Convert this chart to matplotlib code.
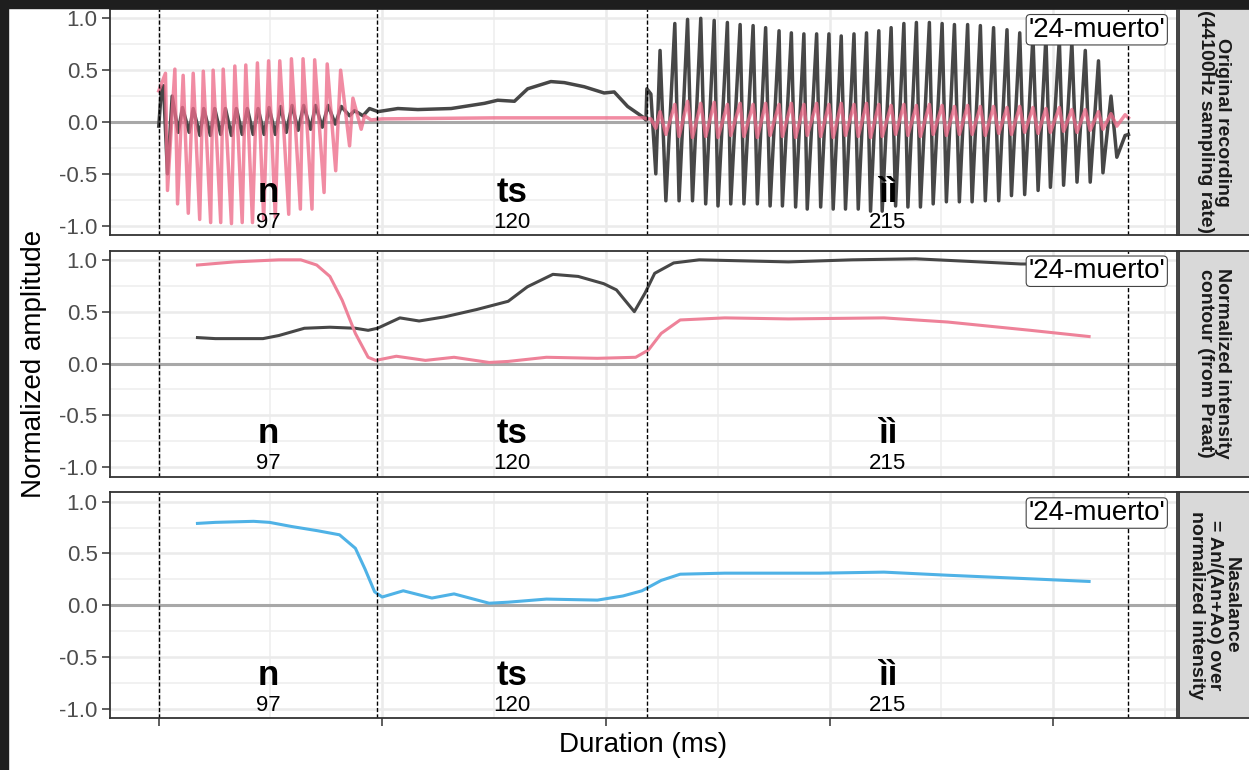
import matplotlib
matplotlib.use("Agg")
import matplotlib.pyplot as plt
from matplotlib.patches import Rectangle

plt.rcParams["font.family"] = ["Liberation Sans", "DejaVu Sans"]

# --- segment info ---
seg_labels = ["n", "ts", "ìì"]
seg_durations = ["97", "120", "215"]
seg_bounds = [0, 97.7, 218.3, 433.6]   # ms

strip_labels = [
    "Original recording\n(44100Hz sampling rate)",
    "Normalized intensity\ncontour (from Praat)",
    "Nasalance\n= An/(An+Ao) over\nnormalized intensity",
]
word_label = "'24-muerto'"

# --- panel 1: waveforms (oral = grey, nasal = pink) ---
oral_wave_t = [0.1, 1.3, 2.2, 4.0, 6.1, 8.8, 10.7, 13.7, 15.5, 18.5, 20.2, 23.2, 25.1,
               27.8, 29.9, 32.6, 34.8, 37.4, 39.7, 42.3, 44.5, 47.2, 49.4, 52.2, 54.6,
               57.1, 59.7, 62.4, 64.9, 68.0, 70.2, 73.2, 75.8, 79.0, 81.7, 85.4, 87.6,
               91.4, 94.3,
               98.1, 107.0, 115.9, 130.8, 145.7, 151.6, 159.1, 165.0, 175.4, 181.4,
               190.3, 199.2, 203.7, 209.7, 216.4, 217.9,
               218.3, 220.1, 222.3, 224.2, 226.8, 230.8, 232.7, 236.5, 238.7, 242.4,
               244.6, 248.4, 250.1, 254.3, 255.8, 260.0, 261.7, 265.8, 267.7, 271.4,
               273.4, 277.4, 278.9, 282.9, 284.8, 288.5, 290.0, 294.2, 296.0, 299.7,
               301.6, 305.2, 307.1, 310.9, 312.8, 316.5, 318.3, 322.0, 323.5, 327.5,
               329.5, 333.2, 335.0, 338.8, 340.6, 344.6, 346.3, 350.3, 352.2, 355.8,
               358.0, 361.7, 363.7, 367.4, 369.6, 373.3, 375.6, 379.3, 381.3, 385.0,
               387.2, 390.9, 393.2, 396.7, 398.7, 402.7, 404.6, 408.3, 410.6, 414.3,
               416.5, 420.2, 422.2, 425.8, 428.4, 432.1, 433.6]
oral_wave_v = [-0.04, 0.32, 0.35, -0.50, 0.25, -0.10, 0.14, -0.10, 0.13, -0.13, 0.13, -0.13,
               0.13, -0.12, 0.13, -0.13, 0.13, -0.12, 0.13, -0.12, 0.13, -0.12, 0.14, -0.12,
               0.15, -0.10, 0.16, -0.08, 0.16, -0.07, 0.16, -0.05, 0.16, -0.02, 0.15, 0.06,
               0.11, 0.06, 0.13,
               0.10, 0.13, 0.12, 0.13, 0.18, 0.21, 0.20, 0.32, 0.39, 0.38,
               0.34, 0.28, 0.29, 0.15, 0.05, 0.02,
               0.32, 0.27, -0.50, 0.69, -0.76, 0.95, -0.76, 0.99, -0.76, 1.00,
               -0.79, 0.98, -0.81, 0.96, -0.79, 0.94, -0.79, 0.93, -0.79, 0.91,
               -0.81, 0.88, -0.81, 0.86, -0.82, 0.85, -0.84, 0.85, -0.82, 0.85,
               -0.84, 0.83, -0.84, 0.85, -0.84, 0.86, -0.86, 0.88, -0.86, 0.91,
               -0.81, 0.95, -0.82, 0.96, -0.82, 0.96, -0.79, 0.95, -0.77, 0.94,
               -0.77, 0.94, -0.77, 0.93, -0.76, 0.91, -0.76, 0.89, -0.71, 0.86,
               -0.70, 0.83, -0.66, 0.82, -0.63, 0.80, -0.61, 0.77, -0.58, 0.69,
               -0.58, 0.59, -0.49, 0.25, -0.34, -0.13, -0.12]

nasal_wave_t = [0.1, 3.1, 4.0, 7.3, 8.5, 11.0, 13.3, 15.5, 18.4, 20.0, 23.3, 24.4, 27.8,
                28.9, 32.6, 34.1, 37.4, 39.0, 42.0, 44.2, 47.0, 49.2, 52.2, 54.2, 58.2,
                59.4, 63.4, 64.6, 68.6, 69.8, 74.0, 75.4, 79.2, 81.4, 85.4, 86.9, 90.6,
                92.1, 95.0,
                100.0, 150.0, 217.0,
                218.3, 220.1, 222.3, 224.2, 226.8, 230.8, 232.7, 236.5, 238.7, 242.4,
                244.6, 248.4, 250.1, 254.3, 255.8, 260.0, 261.7, 265.8, 267.7, 271.4,
                273.4, 277.4, 278.9, 282.9, 284.8, 288.5, 290.0, 294.2, 296.0, 299.7,
                301.6, 305.2, 307.1, 310.9, 312.8, 316.5, 318.3, 322.0, 323.5, 327.5,
                329.5, 333.2, 335.0, 338.8, 340.6, 344.6, 346.3, 350.3, 352.2, 355.8,
                358.0, 361.7, 363.7, 367.4, 369.6, 373.3, 375.6, 379.3, 381.3, 385.0,
                387.2, 390.9, 393.2, 396.7, 398.7, 402.7, 404.6, 408.3, 410.6, 414.3,
                416.5, 420.2, 422.2, 425.8, 428.4, 432.1, 433.6]
nasal_wave_v = [0.30, 0.47, -0.66, 0.51, -0.79, 0.45, -0.88, 0.47, -0.94, 0.49, -0.97, 0.50,
                -0.97, 0.51, -0.98, 0.54, -0.97, 0.55, -0.97, 0.57, -0.94, 0.59, -0.92, 0.59,
                -0.89, 0.61, -0.84, 0.61, -0.84, 0.60, -0.68, 0.56, -0.47, 0.50, -0.23, 0.23,
                -0.07, 0.06, 0.02,
                0.03, 0.04, 0.04,
                0.03, 0.03, -0.06, 0.10, -0.12, 0.17, -0.14, 0.20, -0.15, 0.18,
                -0.14, 0.19, -0.15, 0.17, -0.13, 0.18, -0.14, 0.17, -0.15, 0.18,
                -0.13, 0.17, -0.14, 0.18, -0.15, 0.17, -0.13, 0.18, -0.14, 0.17,
                -0.15, 0.18, -0.13, 0.17, -0.14, 0.18, -0.15, 0.17, -0.14, 0.16,
                -0.12, 0.17, -0.13, 0.16, -0.14, 0.17, -0.12, 0.16, -0.13, 0.15,
                -0.12, 0.16, -0.12, 0.15, -0.13, 0.15, -0.11, 0.14, -0.12, 0.15,
                -0.10, 0.14, -0.11, 0.13, -0.10, 0.14, -0.09, 0.12, -0.10, 0.12,
                -0.08, 0.10, -0.07, 0.08, -0.04, 0.07, 0.04]

# --- panel 2: intensity contours ---
oral_int_t = [17.4, 25.4, 33.9, 46.7, 53.8, 65.2, 76.6, 88.0, 93.7, 97.9, 107.9, 116.5,
              127.9, 142.1, 156.3, 164.9, 176.3, 187.6, 199.0, 204.7, 212.7, 217.5, 221.8,
              230.3, 241.7, 281.6, 310.0, 338.5, 367.0, 385.5, 400.0, 416.0]
oral_int_v = [0.25, 0.24, 0.24, 0.24, 0.27, 0.34, 0.35, 0.34, 0.32, 0.34, 0.44, 0.41,
              0.45, 0.52, 0.60, 0.74, 0.86, 0.84, 0.77, 0.71, 0.50, 0.68, 0.87,
              0.97, 1.00, 0.98, 1.00, 1.01, 0.98, 0.96, 0.96, 0.95]
nasal_int_t = [17.4, 33.9, 53.8, 63.6, 70.7, 76.6, 82.1, 88.0, 93.7, 97.1, 106.3, 119.3,
               132.1, 147.8, 156.3, 173.4, 196.2, 213.3, 219.0, 224.7, 233.2, 253.1, 281.6,
               324.3, 352.8, 389.8, 416.0]
nasal_int_v = [0.95, 0.98, 1.00, 1.00, 0.95, 0.84, 0.61, 0.29, 0.06, 0.03, 0.07, 0.03,
               0.06, 0.01, 0.02, 0.06, 0.05, 0.06, 0.13, 0.29, 0.42, 0.44, 0.43,
               0.44, 0.40, 0.32, 0.26]

# --- panel 3: nasalance ---
nasalance_t = [17.4, 25.4, 42.5, 49.6, 59.5, 70.9, 80.9, 88.0, 92.3, 96.6, 100.0, 109.4,
               122.2, 132.1, 147.8, 156.3, 173.4, 196.2, 207.6, 216.1, 224.7, 233.2, 253.1,
               295.8, 324.3, 352.8, 395.5, 416.0]
nasalance_v = [0.79, 0.80, 0.81, 0.80, 0.76, 0.72, 0.68, 0.55, 0.35, 0.13, 0.08, 0.14,
               0.07, 0.11, 0.02, 0.03, 0.06, 0.05, 0.09, 0.14, 0.24, 0.30, 0.31,
               0.31, 0.32, 0.29, 0.25, 0.23]

# --- colours ---
grey_line = "#474747"
pink_line = "#EE6C8A"
pink_soft = "#EE8299"
blue_line = "#4FB2E6"

W, H = 1249, 770
fig = plt.figure(figsize=(W / 100, H / 100), dpi=100)

# dark screenshot edges (top and left)
fig.patches.append(Rectangle((0, 1 - 8 / H), 1, 8 / H, transform=fig.transFigure,
                             color="#1E1E1E", zorder=0))
fig.patches.append(Rectangle((0, 0), 8 / W, 1, transform=fig.transFigure,
                             color="#1E1E1E", zorder=0))

left, right = 110 / W, 1177 / W
panel_tops = [9, 250.5, 492.3]
panel_h = 226
xlim = (-21.7, 455.3)

axes = []
for i, top in enumerate(panel_tops):
    ax = fig.add_axes([left, 1 - (top + panel_h) / H, right - left, panel_h / H])
    ax.set_xlim(*xlim)
    ax.set_ylim(-1.09, 1.09)
    ax.set_yticks([-1.0, -0.5, 0.0, 0.5, 1.0])
    ax.set_yticklabels(["-1.0", "-0.5", "0.0", "0.5", "1.0"])
    ax.set_yticks([-0.75, -0.25, 0.25, 0.75], minor=True)
    ax.set_xticks([0, 100, 200, 300, 400])
    ax.set_xticks([50, 150, 250, 350, 450], minor=True)
    ax.grid(which="major", color="#EBEBEB", lw=1.8, zorder=0)
    ax.grid(which="minor", color="#EEEEEE", lw=1.1, zorder=0)
    ax.set_axisbelow(True)
    ax.tick_params(axis="y", which="major", length=6, width=1.1, color="#333333",
                   labelsize=16, labelcolor="#4D4D4D", pad=3)
    ax.tick_params(axis="y", which="minor", length=0)
    ax.tick_params(axis="x", which="minor", length=0)
    if i < 2:
        ax.tick_params(axis="x", which="major", length=0, labelbottom=False)
    else:
        ax.tick_params(axis="x", which="major", length=6, width=1.1, color="#333333",
                       labelbottom=False)
    for sp in ax.spines.values():
        sp.set_color("#333333")
        sp.set_linewidth(1.3)
        sp.set_zorder(10)

    ax.axhline(0, color="#A8A8A8", lw=2.2, zorder=1)
    for b in seg_bounds:
        ax.axvline(b, color="black", lw=1.0, ls=(0, (3, 1.6)), zorder=6)

    # segment labels
    for k in range(3):
        mid = (seg_bounds[k] + seg_bounds[k + 1]) / 2
        ax.text(mid, -0.77, seg_labels[k], ha="center", va="baseline",
                fontsize=25, fontweight="bold", color="black", zorder=7)
        ax.text(mid, -1.02, seg_durations[k], ha="center", va="baseline",
                fontsize=16, color="black", zorder=7)

    ax.text(450, 0.89, word_label, ha="right", va="center", fontsize=20, zorder=8,
            bbox=dict(boxstyle="round,pad=0.08,rounding_size=0.15", fc="white",
                      ec="#444444", lw=0.8))

    # strip on the right
    sax = fig.add_axes([1179 / W, 1 - (top + panel_h) / H, 80 / W, panel_h / H])
    sax.set_facecolor("#D9D9D9")
    sax.set_xticks([])
    sax.set_yticks([])
    for sp in sax.spines.values():
        sp.set_color("#333333")
        sp.set_linewidth(1.3)
    sax.text(35 / 80, 0.5, strip_labels[i], transform=sax.transAxes, rotation=-90,
             ha="center", va="center", multialignment="center", fontsize=14,
             fontweight="bold", color="#1A1A1A", linespacing=1.0)
    axes.append(ax)

# --- lines ---
axes[0].plot(oral_wave_t, oral_wave_v, color=grey_line, lw=2.5, zorder=3,
             solid_joinstyle="round")
axes[0].plot(nasal_wave_t, nasal_wave_v, color=pink_line, lw=2.5, alpha=0.78, zorder=4,
             solid_joinstyle="round")

axes[1].plot(oral_int_t, oral_int_v, color=grey_line, lw=2.2, zorder=3)
axes[1].plot(nasal_int_t, nasal_int_v, color=pink_soft, lw=2.2, zorder=4)

axes[2].plot(nasalance_t, nasalance_v, color=blue_line, lw=2.2, zorder=3)

# --- axis titles ---
fig.text(34 / W, 1 - 364 / H, "Normalized amplitude", rotation=90, ha="center",
         va="center", fontsize=20)
fig.text(643 / W, 1 - 745 / H, "Duration (ms)", ha="center", va="center", fontsize=20)

fig.savefig("out.png", dpi=100, facecolor="white")
plt.close(fig)
print("Saved plot to: out.png")
